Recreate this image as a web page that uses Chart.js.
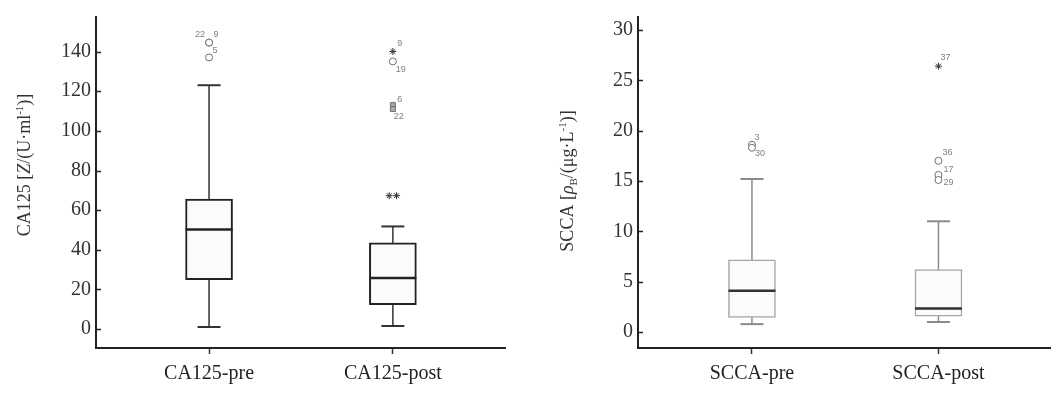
<!DOCTYPE html>
<html>
<head>
<meta charset="utf-8">
<script src="https://cdn.jsdelivr.net/npm/chart.js@4.4.1/dist/chart.umd.min.js"></script>
<style>
  html, body { margin: 0; padding: 0; background: #fff; }
  .wrap { display: flex; width: 1056px; height: 405px; }
  .panel { width: 528px; height: 405px; }
</style>
</head>
<body>
<div class="wrap">
  <div class="panel"><canvas id="ca125" width="528" height="405"></canvas></div>
  <div class="panel"><canvas id="scca" width="528" height="405"></canvas></div>
</div>
<script>
// ---- CA125 panel data ----
const caCategories = ["CA125-pre", "CA125-post"];
const caMin = [1.1, 1.6];
const caQ1 = [24.9, 12.3];
const caMedian = [50.2, 25.8];
const caQ3 = [65.6, 43.5];
const caMax = [123, 51.8];
const caTicks = [0, 20, 40, 60, 80, 100, 120, 140];
const caOutGroup = [0, 0, 0, 1, 1, 1, 1, 1, 1];
const caOutValue = [144.5, 144.5, 137, 140, 135, 113, 111, 67.3, 67.3];
const caOutLabel = ["22", "9", "5", "9", "19", "6", "22", "", ""];
const caOutShape = ["circle", "circle", "circle", "star", "circle", "rect", "rect", "star", "star"];
const caOutJitter = [0, 0, 0, 0, 0, 0, 0, -0.02, 0.02];

// ---- SCCA panel data ----
const sccaCategories = ["SCCA-pre", "SCCA-post"];
const sccaMin = [0.79, 1.0];
const sccaQ1 = [1.45, 1.58];
const sccaMedian = [4.1, 2.34];
const sccaQ3 = [7.17, 6.2];
const sccaMax = [15.2, 11.0];
const sccaTicks = [0, 5, 10, 15, 20, 25, 30];
const sccaOutGroup = [0, 0, 1, 1, 1, 1];
const sccaOutValue = [18.6, 18.3, 26.4, 17.0, 15.6, 15.1];
const sccaOutLabel = ["3", "30", "37", "36", "17", "29"];
const sccaOutShape = ["circle", "circle", "star", "circle", "circle", "circle"];
const sccaOutJitter = [0, 0, 0, 0, 0, 0];

const SERIF = "'Liberation Serif', 'Times New Roman', serif";

// whiskers, caps and median lines on top of the floating bars
const boxWhiskers = {
  id: "boxWhiskers",
  afterDatasetsDraw(chart, args, o) {
    const { ctx, scales: { x, y } } = chart;
    const seg = (x1, y1, x2, y2) => {
      ctx.beginPath(); ctx.moveTo(x1, y1); ctx.lineTo(x2, y2); ctx.stroke();
    };
    ctx.save();
    o.min.forEach((mn, i) => {
      const px = x.getPixelForValue(i);
      ctx.strokeStyle = o.whiskerColor;
      ctx.lineWidth = o.whiskerWidth;
      seg(px, y.getPixelForValue(o.q3[i]), px, y.getPixelForValue(o.max[i]));
      seg(px, y.getPixelForValue(o.q1[i]), px, y.getPixelForValue(mn));
      ctx.lineWidth = o.capWidth;
      seg(px - o.capHalf, y.getPixelForValue(o.max[i]), px + o.capHalf, y.getPixelForValue(o.max[i]));
      seg(px - o.capHalf, y.getPixelForValue(mn), px + o.capHalf, y.getPixelForValue(mn));
      ctx.strokeStyle = o.medianColor;
      ctx.lineWidth = o.medianWidth;
      const my = y.getPixelForValue(o.median[i]);
      seg(px - o.boxHalf, my, px + o.boxHalf, my);
    });
    ctx.restore();
  }
};

// small case numbers next to the outliers
const outlierLabels = {
  id: "outlierLabels",
  afterDatasetsDraw(chart, args, o) {
    const meta = chart.getDatasetMeta(1);
    const { ctx } = chart;
    ctx.save();
    ctx.font = "9px 'Liberation Sans', sans-serif";
    ctx.fillStyle = "#808080";
    ctx.textAlign = "center";
    ctx.textBaseline = "middle";
    meta.data.forEach((pt, i) => {
      if (o.labels[i]) ctx.fillText(o.labels[i], pt.x + o.dx[i], pt.y + o.dy[i]);
    });
    ctx.restore();
  }
};

// inward tick marks on the y axis + rich rotated axis title
const yAxisExtras = {
  id: "yAxisExtras",
  afterDraw(chart, args, o) {
    const { ctx, chartArea, scales: { y } } = chart;
    ctx.save();
    ctx.strokeStyle = "#222";
    ctx.lineWidth = 1.5;
    y.ticks.forEach(t => {
      const py = Math.round(y.getPixelForValue(t.value)) + 0.5;
      ctx.beginPath(); ctx.moveTo(chartArea.left, py); ctx.lineTo(chartArea.left + 5, py); ctx.stroke();
    });

    ctx.translate(o.cx, o.cy);
    ctx.rotate(-Math.PI / 2);
    ctx.fillStyle = "#333";
    ctx.textBaseline = "alphabetic";
    const fontOf = s => (s.it ? "italic " : "") + (s.sup || s.sub ? 11 : 18) + "px " + SERIF;
    let total = 0;
    o.parts.forEach(s => { ctx.font = fontOf(s); s.w = ctx.measureText(s.t).width; total += s.w; });
    let tx = -total / 2;
    o.parts.forEach(s => {
      ctx.font = fontOf(s);
      const shift = s.sup ? -7 : (s.sub ? 4 : 0);
      ctx.fillText(s.t, tx, 6 + shift);
      tx += s.w;
    });
    ctx.restore();
  }
};

function buildBoxChart(id, p) {
  return new Chart(document.getElementById(id), {
    type: "bar",
    data: {
      datasets: [
        {
          type: "bar",
          data: p.q1.map((q, i) => ({ x: i, y: [q, p.q3[i]] })),
          backgroundColor: "#fbfbfb",
          borderColor: p.boxColor,
          borderWidth: p.boxWidth,
          borderSkipped: false,
          barThickness: 47,
          order: 2
        },
        {
          type: "scatter",
          data: p.outGroup.map((g, i) => ({ x: g + p.jitter[i], y: p.outValue[i] })),
          pointStyle: p.shapes,
          pointRadius: 3.5,
          borderWidth: 1,
          borderColor: p.shapes.map(s => (s === "star" ? "#333" : "#6f6f6f")),
          backgroundColor: p.shapes.map(s => (s === "rect" ? "#aaa" : "#fff")),
          order: 1
        }
      ]
    },
    options: {
      responsive: false,
      animation: false,
      layout: { padding: { top: 13, right: p.padRight, bottom: 0, left: 0 } },
      plugins: {
        legend: { display: false },
        tooltip: { enabled: false },
        boxWhiskers: {
          min: p.min, q1: p.q1, median: p.median, q3: p.q3, max: p.max,
          whiskerColor: p.whiskerColor, whiskerWidth: 1.5, capWidth: 2,
          capHalf: 11.5, boxHalf: 23.5,
          medianColor: p.medianColor, medianWidth: 2.5
        },
        outlierLabels: { labels: p.outLabel, dx: p.dx, dy: p.dy },
        yAxisExtras: { parts: p.title, cx: p.titleX, cy: p.titleY }
      },
      scales: {
        x: {
          type: "linear",
          offset: false,
          min: p.xMin,
          max: p.xMax,
          afterBuildTicks: s => { s.ticks = p.categories.map((c, i) => ({ value: i })); },
          afterFit: s => { s.height = 57; },
          ticks: {
            callback: v => p.categories[v],
            font: { family: SERIF, size: 20 },
            color: "#222",
            padding: 8
          },
          grid: { offset: false, drawOnChartArea: false, tickLength: 6, tickColor: "#333", tickWidth: 1.5 },
          border: { color: "#222", width: 2 }
        },
        y: {
          min: p.yMin,
          max: p.yMax,
          afterBuildTicks: s => { s.ticks = p.ticks.map(v => ({ value: v })); },
          afterFit: s => { s.width = p.yWidth; },
          ticks: { font: { family: SERIF, size: 20 }, color: "#333", padding: 5 },
          grid: { display: false, drawTicks: false },
          border: { color: "#222", width: 2 }
        }
      }
    },
    plugins: [boxWhiskers, outlierLabels, yAxisExtras]
  });
}

buildBoxChart("ca125", {
  categories: caCategories,
  min: caMin, q1: caQ1, median: caMedian, q3: caQ3, max: caMax,
  ticks: caTicks,
  outGroup: caOutGroup, outValue: caOutValue, outLabel: caOutLabel,
  shapes: caOutShape, jitter: caOutJitter,
  dx: [-9, 7, 6, 7, 8, 7, 6, 0, 0],
  dy: [-8, -8, -7, -8, 8, -6, 7, 0, 0],
  xMin: -0.615, xMax: 1.61, yMin: -9.5, yMax: 157.4,
  yWidth: 96, padRight: 23,
  boxColor: "#222", boxWidth: 2, whiskerColor: "#333", medianColor: "#222",
  title: [{ t: "CA125 [" }, { t: "Z", it: true }, { t: "/(U·ml" }, { t: "-1", sup: true }, { t: ")]" }],
  titleX: 24, titleY: 165
});

buildBoxChart("scca", {
  categories: sccaCategories,
  min: sccaMin, q1: sccaQ1, median: sccaMedian, q3: sccaQ3, max: sccaMax,
  ticks: sccaTicks,
  outGroup: sccaOutGroup, outValue: sccaOutValue, outLabel: sccaOutLabel,
  shapes: sccaOutShape, jitter: sccaOutJitter,
  dx: [5, 8, 7, 9, 10, 10],
  dy: [-7, 6, -9, -8, -5, 3],
  xMin: -0.611, xMax: 1.598, yMin: -1.58, yMax: 31.28,
  yWidth: 110, padRight: 6,
  boxColor: "#a6a6a6", boxWidth: 1.5, whiskerColor: "#8a8a8a", medianColor: "#333",
  title: [{ t: "SCCA [" }, { t: "ρ", it: true }, { t: "B", sub: true }, { t: "/(μg·L" }, { t: "-1", sup: true }, { t: ")]" }],
  titleX: 39, titleY: 181
});
</script>
</body>
</html>
